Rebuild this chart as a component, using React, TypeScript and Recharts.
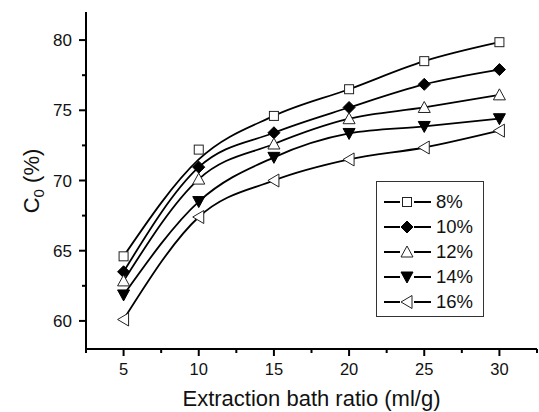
import { ComposedChart, Line, XAxis, YAxis, Legend } from 'recharts'

const ratios = [5, 10, 15, 20, 25, 30]
const c8 = [64.6, 72.2, 74.6, 76.5, 78.5, 79.85]
const c10 = [63.5, 70.95, 73.4, 75.2, 76.85, 77.9]
const c12 = [62.85, 70.1, 72.6, 74.4, 75.2, 76.1]
const c14 = [61.85, 68.5, 71.65, 73.35, 73.85, 74.4]
const c16 = [60.1, 67.4, 70.0, 71.5, 72.35, 73.55]
// fitted curve as drawn: only 8% visibly leaves its point (at 10 ml/g)
const fit8 = [64.6, 71.5, 74.6, 76.5, 78.5, 79.85]

const xTicks = [2.5, 5, 7.5, 10, 12.5, 15, 17.5, 20, 22.5, 25, 27.5, 30, 32.5]
const yTicks = [60, 62.5, 65, 67.5, 70, 72.5, 75, 77.5, 80]

const FONT = '"Liberation Sans", Arial, Helvetica, sans-serif'

type Shape = 'square' | 'diamond' | 'up' | 'down' | 'left'

const series: { key: string; fit: string; name: string; shape: Shape }[] = [
  { key: 'c8', fit: 'f8', name: '8%', shape: 'square' },
  { key: 'c10', fit: 'f10', name: '10%', shape: 'diamond' },
  { key: 'c12', fit: 'f12', name: '12%', shape: 'up' },
  { key: 'c14', fit: 'f14', name: '14%', shape: 'down' },
  { key: 'c16', fit: 'f16', name: '16%', shape: 'left' },
]

const rows = ratios.map((x, i) => ({
  x,
  c8: c8[i],
  c10: c10[i],
  c12: c12[i],
  c14: c14[i],
  c16: c16[i],
  f8: fit8[i],
  f10: c10[i],
  f12: c12[i],
  f14: c14[i],
  f16: c16[i],
}))

function marker(shape: Shape, cx: number, cy: number, key?: string | number) {
  const open = { fill: '#fff', stroke: '#222', strokeWidth: 1 }
  const solid = { fill: '#000', stroke: '#000', strokeWidth: 1 }
  switch (shape) {
    case 'square':
      return <rect key={key} x={cx - 4.5} y={cy - 4.5} width={9} height={9} {...open} />
    case 'diamond':
      return <polygon key={key} points={`${cx},${cy - 6} ${cx + 6},${cy} ${cx},${cy + 6} ${cx - 6},${cy}`} {...solid} />
    case 'up':
      return <polygon key={key} points={`${cx},${cy - 6} ${cx + 6},${cy + 5} ${cx - 6},${cy + 5}`} {...open} />
    case 'down':
      return <polygon key={key} points={`${cx - 6},${cy - 5} ${cx + 6},${cy - 5} ${cx},${cy + 6}`} {...solid} />
    default:
      return <polygon key={key} points={`${cx - 6},${cy} ${cx + 5},${cy - 6.5} ${cx + 5},${cy + 6.5}`} {...open} />
  }
}

function XTick({ x, y, payload }: any) {
  const major = payload.value % 5 === 0
  return (
    <g>
      <line x1={x} y1={y} x2={x} y2={y + (major ? 7 : 4)} stroke="#000" strokeWidth={2} />
      {major && (
        <text x={x} y={y + 26} textAnchor="middle" fontSize={16.5} fontFamily={FONT} fill="#111">
          {payload.value}
        </text>
      )}
    </g>
  )
}

function YTick({ x, y, payload }: any) {
  const major = payload.value % 5 === 0
  return (
    <g>
      <line x1={x} y1={y} x2={x - (major ? 7 : 4)} y2={y} stroke="#000" strokeWidth={2} />
      {major && (
        <text x={x - 14} y={y + 6} textAnchor="end" fontSize={17} fontFamily={FONT} fill="#111">
          {payload.value}
        </text>
      )}
    </g>
  )
}

function LegendBox() {
  return (
    <div
      style={{
        width: 106,
        height: 126,
        border: '1px solid #333',
        background: '#fff',
        paddingTop: 8,
        boxSizing: 'content-box',
        fontFamily: FONT,
      }}
    >
      {series.map((s) => (
        <div key={s.key} style={{ display: 'flex', alignItems: 'center', height: 24.8 }}>
          <svg width={59} height={24} style={{ display: 'block' }}>
            <line x1={7} y1={12} x2={23} y2={12} stroke="#000" strokeWidth={2} />
            <line x1={37} y1={12} x2={54} y2={12} stroke="#000" strokeWidth={2} />
            {marker(s.shape, 30, 12)}
          </svg>
          <span style={{ fontSize: 18.5, color: '#111', lineHeight: '24px' }}>{s.name}</span>
        </div>
      ))}
    </div>
  )
}

export default function App() {
  return (
    <div style={{ position: 'absolute', left: 0, top: 0, background: '#fff' }}>
      <ComposedChart width={539} height={412} data={rows} margin={{ top: 12, right: 2, bottom: 0, left: 0 }}>
        <XAxis
          dataKey="x"
          type="number"
          domain={[2.5, 32.5]}
          ticks={xTicks}
          interval={0}
          height={63}
          tickSize={0}
          tickMargin={0}
          tickLine={false}
          axisLine={{ stroke: '#000', strokeWidth: 2 }}
          tick={<XTick />}
          label={() => (
            <text x={311.5} y={406} textAnchor="middle" fontSize={22} fontFamily={FONT} fill="#111">
              Extraction bath ratio (ml/g)
            </text>
          )}
        />
        <YAxis
          type="number"
          domain={[58, 82]}
          ticks={yTicks}
          interval={0}
          width={86}
          tickSize={0}
          tickMargin={0}
          tickLine={false}
          axisLine={{ stroke: '#000', strokeWidth: 2 }}
          tick={<YTick />}
          label={() => (
            <text
              x={39}
              y={181}
              transform="rotate(-90, 39, 181)"
              textAnchor="middle"
              fontSize={22}
              fontFamily={FONT}
              fill="#111"
            >
              C<tspan fontSize={15} dy={5}>0</tspan>
              <tspan dy={-5}> (%)</tspan>
            </text>
          )}
        />
        {series.map((s) => (
          <Line
            key={s.fit}
            dataKey={s.fit}
            type="monotone"
            stroke="#000"
            strokeWidth={1.8}
            dot={false}
            activeDot={false}
            legendType="none"
            isAnimationActive={false}
          />
        ))}
        {series.map((s) => (
          <Line
            key={s.key}
            dataKey={s.key}
            name={s.name}
            stroke="none"
            dot={(p: any) => marker(s.shape, p.cx, p.cy, p.key ?? `${s.key}-${p.index}`)}
            activeDot={false}
            isAnimationActive={false}
          />
        ))}
        <Legend
          layout="vertical"
          align="center"
          verticalAlign="middle"
          content={() => <LegendBox />}
          wrapperStyle={{ position: 'absolute', left: 376, top: 181, width: 108, height: 136 }}
        />
      </ComposedChart>
    </div>
  )
}
